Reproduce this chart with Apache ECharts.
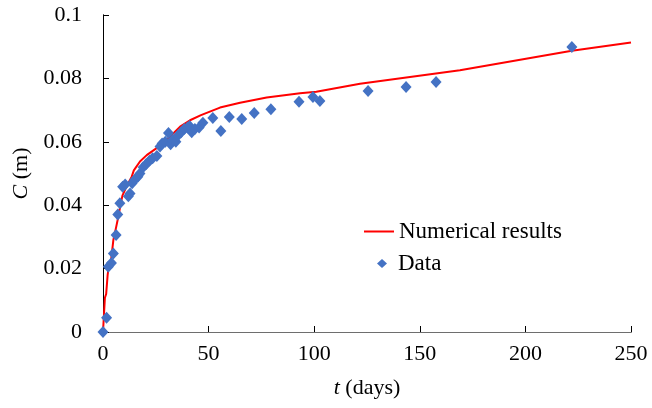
<!DOCTYPE html>
<html>
<head>
<meta charset="utf-8">
<script src="https://cdn.jsdelivr.net/npm/echarts@6/dist/echarts.min.js"></script>
<style>
html, body { margin: 0; padding: 0; background: #fff; }
#chart { width: 652px; height: 408px; }
</style>
</head>
<body>
<div id="chart"></div>
<script>
// measured data (t in days, C in m)
var dataT = [0, 1.7, 2.5, 4.0, 4.9, 6.2, 7.0, 8.0, 9.3, 10.5, 12.0, 12.8, 13.8, 15.0, 16.5, 17.5, 19.0, 20.5, 22.0, 23.5,
    25.5, 27.0, 28.0, 29.5, 31.0, 32.0, 33.0, 34.5, 35.5, 37.0, 38.5, 40.0, 41.0, 42.0, 43.5, 45.5, 47.3,
    52.0, 55.8, 59.8, 65.7, 71.6, 79.5, 92.8, 99.4, 102.7, 125.5, 143.5, 157.7, 222.0];
var dataC = [0, 0.0045, 0.0206, 0.0218, 0.0248, 0.0306, 0.0371, 0.0406, 0.0458, 0.0465, 0.0428, 0.0437, 0.0469, 0.0480, 0.0490, 0.0500, 0.0520, 0.0530, 0.0540, 0.0548,
    0.0555, 0.0585, 0.0595, 0.0600, 0.0628, 0.0592, 0.0605, 0.0600, 0.0620, 0.0630, 0.0640, 0.0645, 0.0650, 0.0630, 0.0640, 0.0645, 0.0660,
    0.0675, 0.0634, 0.0678, 0.0672, 0.0691, 0.0703, 0.0726, 0.0741, 0.0729, 0.0760, 0.0773, 0.0789, 0.0899];

// numerical results curve
var numT = [0, 0.5, 0.9, 1.5, 2.2, 2.8, 3.8, 4.9, 6.2, 7.3, 8.4, 9.2, 11.2, 13.6, 14.6, 17.5, 20.7, 25.4, 31.7, 36.5,
    41.2, 46.4, 55.4, 64.9, 77.5, 93.3, 101, 121.7, 169, 222, 250];
var numC = [0, 0.006, 0.0108, 0.012, 0.018, 0.021, 0.0225, 0.029, 0.033, 0.0365, 0.0405, 0.043, 0.046, 0.049, 0.051, 0.0538, 0.0558, 0.058, 0.0616, 0.0648,
    0.0668, 0.0684, 0.0708, 0.0723, 0.074, 0.0753, 0.0758, 0.0783, 0.0826, 0.0887, 0.0913];

var font = "'Liberation Serif', 'Times New Roman', serif";

var scatterData = [];
for (var i = 0; i < dataT.length; i++) {
    scatterData.push([dataT[i], dataC[i]]);
}
var lineData = [];
for (var j = 0; j < numT.length; j++) {
    lineData.push([numT[j], numC[j]]);
}

var myChart = echarts.init(document.getElementById('chart'));
var option = {
    animation: false,
    backgroundColor: '#fff',
    textStyle: { fontFamily: font, color: '#000' },
    grid: { left: 103, right: 21, top: 15, bottom: 76, containLabel: false, outerBoundsMode: 'none' },
    legend: [
        {
            left: 359,
            top: 215,
            itemWidth: 30,
            itemHeight: 2,
            icon: 'rect',
            textStyle: { fontFamily: font, fontSize: 23, color: '#000' },
            data: ['Numerical results']
        },
        {
            left: 372,
            top: 247,
            itemWidth: 10,
            itemHeight: 9,
            icon: 'diamond',
            textStyle: { fontFamily: font, fontSize: 23, color: '#000', padding: [0, 0, 0, 6] },
            data: ['Data']
        }
    ],
    xAxis: [
        {
            type: 'value',
            min: 0, max: 250, interval: 50,
            name: '{i|t} (days)',
            nameLocation: 'middle',
            nameGap: 45,
            nameTextStyle: {
                fontFamily: font, fontSize: 22, color: '#000',
                rich: { i: { fontFamily: font, fontSize: 22, fontStyle: 'italic', color: '#000' } }
            },
            axisLine: { lineStyle: { color: '#000', width: 1 } },
            axisTick: { inside: true, length: 6, lineStyle: { color: '#000' } },
            axisLabel: { fontFamily: font, fontSize: 22, color: '#000', margin: 11 },
            splitLine: { show: false }
        },
        {
            type: 'value',
            position: 'top',
            min: 0, max: 250,
            axisLine: { show: true, lineStyle: { color: '#6e6e6e', width: 1 } },
            axisTick: { show: false },
            axisLabel: { show: false },
            splitLine: { show: false }
        }
    ],
    yAxis: [
        {
            type: 'value',
            min: 0, max: 0.1, interval: 0.02,
            name: '{i|C} (m)',
            nameLocation: 'middle',
            nameGap: 52,
            nameRotate: 90,
            nameTextStyle: {
                fontFamily: font, fontSize: 22, color: '#000',
                rich: { i: { fontFamily: font, fontSize: 22, fontStyle: 'italic', color: '#000' } }
            },
            axisLine: { show: true, lineStyle: { color: '#000', width: 1 } },
            axisTick: { inside: true, length: 6, lineStyle: { color: '#000' } },
            axisLabel: { fontFamily: font, fontSize: 22, color: '#000', margin: 21 },
            splitLine: { show: false }
        },
        {
            type: 'value',
            position: 'right',
            min: 0, max: 0.1,
            axisLine: { show: true, lineStyle: { color: '#000', width: 1 } },
            axisTick: { show: false },
            axisLabel: { show: false },
            splitLine: { show: false }
        }
    ],
    series: [
        {
            name: 'Numerical results',
            type: 'line',
            data: lineData,
            symbol: 'none',
            lineStyle: { color: '#ff0000', width: 2 },
            itemStyle: { color: '#ff0000' },
            z: 3
        },
        {
            name: 'Data',
            type: 'scatter',
            data: scatterData,
            symbol: 'diamond',
            symbolSize: [11, 12],
            itemStyle: { color: '#4472c4', opacity: 1 },
            z: 4
        }
    ]
};
myChart.setOption(option);
</script>
</body>
</html>
